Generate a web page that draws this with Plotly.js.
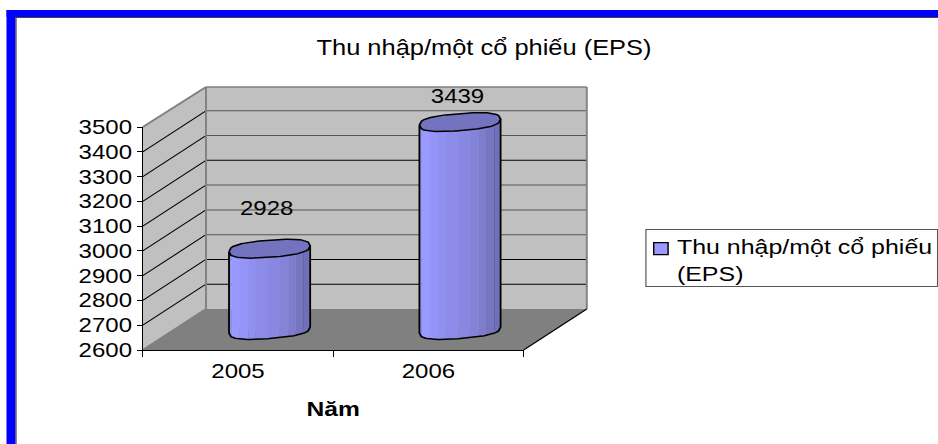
<!DOCTYPE html>
<html>
<head>
<meta charset="utf-8">
<script src="https://cdn.plot.ly/plotly-3.0.1.min.js"></script>
<style>html,body{margin:0;padding:0;background:#fff;overflow:hidden;}#c{transform-origin:0 0;}</style>
</head>
<body>
<div id="c"></div>
<script>
const years = ['2005', '2006'];
const eps = [2928, 3439];
const labelShift = [41, 26];
const seriesName = 'Thu nhập/một cổ phiếu<br>(EPS)';
const titleText = 'Thu nhập/một cổ phiếu (EPS)';
const axisTitle = 'Năm';
const gridValues = [2700, 2800, 2900, 3000, 3100, 3200, 3300, 3400];
const gridColors = ['#000', '#000', '#555', '#555', '#555', '#000', '#555', '#555'];
const stripEdges = [0, 0.03, 0.13, 0.24, 0.33, 0.48, 0.62, 0.73, 0.82, 0.92, 1];
const stripColors = ['#8f8ff0', '#9999ff', '#9494f8', '#9090f0', '#8c8ce8', '#8888e0', '#8383d8', '#7d7dcc', '#7676c0', '#7070b8'];

// The reference picture is stretched sideways, so the whole chart is too.
const S = 1.2;
const chart = document.getElementById('c');
chart.style.width = (938 / S) + 'px';
chart.style.height = '444px';
chart.style.transform = 'scaleX(' + S + ')';

// Pixel frame of the plot area (in final picture pixels)
const L = 143, R = 586, T = 87, B = 350, W = R - L, H = B - T;
const frontR = 523, frontTop = 127, depthX = 63, depthY = 41;
const pxPerUnit = (B - frontTop) / 900;
const X = p => (p - L) / W, Y = p => (B - p) / H;
const midX = depthX / 2, midY = 20;
const barW = 81 / 190;
const capH = 8.5 / pxPerUnit, tilt = 3 / pxPerUnit;

const P = (pts) => 'M' + pts.map(q => X(q[0]) + ',' + Y(q[1])).join('L') + 'Z';
const valFront = v => B - (v - 2600) * pxPerUnit;
const by = [T, B - depthY];

const shapes = [
  {type:'rect',xref:'paper',yref:'paper',x0:X(7),x1:X(938),y0:Y(10),y1:Y(17),fillcolor:'#0000ff',line:{width:0},layer:'below'},
  {type:'rect',xref:'paper',yref:'paper',x0:X(7),x1:X(16),y0:Y(10),y1:Y(444),fillcolor:'#0000ff',line:{width:0},layer:'below'},
  {type:'line',xref:'paper',yref:'paper',x0:X(16),x1:X(938),y0:Y(17.5),y1:Y(17.5),line:{color:'#444',width:1},layer:'below'},
  {type:'line',xref:'paper',yref:'paper',x0:X(16.5),x1:X(16.5),y0:Y(17),y1:Y(444),line:{color:'#444',width:1},layer:'below'},
  {type:'path',xref:'paper',yref:'paper',path:P([[L,frontTop],[L+depthX,T],[L+depthX,by[1]],[L,B]]),fillcolor:'#c0c0c0',line:{width:0},layer:'below'},
  {type:'path',xref:'paper',yref:'paper',path:P([[L+depthX,T],[R,T],[R,by[1]],[L+depthX,by[1]]]),fillcolor:'#c0c0c0',line:{width:0},layer:'below'},
  {type:'path',xref:'paper',yref:'paper',path:P([[L,B],[L+depthX,by[1]],[R,by[1]],[frontR,B]]),fillcolor:'#808080',line:{width:0},layer:'below'},
  {type:'rect',xref:'paper',yref:'paper',x0:X(645),x1:X(936),y0:Y(229.5),y1:Y(286.5),fillcolor:'#fff',line:{color:'#555',width:1},layer:'below'}
];
gridValues.forEach((v, i) => {
  const f = valFront(v), b = f - depthY;
  shapes.push({type:'line',xref:'paper',yref:'paper',x0:X(L),y0:Y(f),x1:X(L+depthX),y1:Y(b),line:{color:'#000',width:1},layer:'below'});
  shapes.push({type:'line',xref:'paper',yref:'paper',x0:X(L+depthX),y0:Y(b),x1:X(R),y1:Y(b),line:{color:gridColors[i],width:1},layer:'below'});
});
[[[L,frontTop],[L+depthX,T]],[[L+depthX,T],[R,T]],[[R,T],[R,by[1]]],[[L+depthX,T],[L+depthX,by[1]]],[[L,B],[L+depthX,by[1]]]].forEach(s => {
  shapes.push({type:'line',xref:'paper',yref:'paper',x0:X(s[0][0]),y0:Y(s[0][1]),x1:X(s[1][0]),y1:Y(s[1][1]),line:{color:'#808080',width:1.6},layer:'below'});
});
shapes.push({type:'line',xref:'paper',yref:'paper',x0:X(frontR),y0:Y(B),x1:X(R),y1:Y(by[1]),line:{color:'#000',width:1},layer:'below'});

const traces = [
  {type:'scatter',mode:'markers',x:years,y:eps,xaxis:'x',yaxis:'y',marker:{opacity:0},showlegend:false,hoverinfo:'skip'},
  {type:'bar',name:seriesName,x:[0,1],y:eps,width:barW*0.85,xaxis:'x2',yaxis:'y2',
   marker:{color:'#9999ff',line:{color:'#000',width:1.2}},showlegend:true,hoverinfo:'y'}
];
const cap = (u, sign) => {
  const s = Math.pow(Math.max(0, 1 - Math.pow(Math.abs(u), 2.6)), 1 / 2.6);
  return sign * s * capH + u * tilt;
};
const samples = (a, b, n) => Array.from({length:n + 1}, (_, i) => a + (b - a) * i / n);
eps.forEach((v, i) => {
  const hw = barW / 2;
  stripColors.forEach((c, k) => {
    const us = samples(stripEdges[k] * 2 - 1, stripEdges[k + 1] * 2 - 1, 4);
    const xs = us.map(u => i + u * hw), lows = us.map(u => 2600 + cap(u, -1));
    const tops = us.map(u => v + u * tilt);
    traces.push({type:'scatter',mode:'lines',x:xs.concat(xs.slice().reverse(), [xs[0]]),
      y:lows.concat(tops.slice().reverse(), [lows[0]]),fill:'toself',fillcolor:c,line:{width:0},
      xaxis:'x3',yaxis:'y3',showlegend:false,hoverinfo:'skip'});
  });
  const bot = samples(-1, 1, 40);
  traces.push({type:'scatter',mode:'lines',
    x:[i - hw].concat(bot.map(u => i + u * hw), [i + hw]),
    y:[v - tilt].concat(bot.map(u => 2600 + cap(u, -1)), [v + tilt]),
    line:{color:'#000',width:1.5},xaxis:'x3',yaxis:'y3',showlegend:false,hoverinfo:'skip'});
  const up = samples(-1, 1, 40), dn = samples(1, -1, 40);
  traces.push({type:'scatter',mode:'lines',
    x:up.map(u => i + u * hw).concat(dn.map(u => i + u * hw)),
    y:up.map(u => v + cap(u, 1)).concat(dn.map(u => v + cap(u, -1))),
    fill:'toself',fillcolor:'#7373bf',line:{color:'#000',width:1.5},
    xaxis:'x3',yaxis:'y3',showlegend:false,hoverinfo:'skip'});
});

const font = {family:'"Liberation Sans", Arial, sans-serif', color:'#000'};
const midDomainX = [X(L + midX), X(L + midX + 380)];
const layout = {
  width:938 / S, height:444,
  margin:{l:L / S, r:(938 - R) / S, t:T, b:444 - B, pad:0, autoexpand:false},
  paper_bgcolor:'#fff', plot_bgcolor:'rgba(0,0,0,0)',
  font:Object.assign({size:20}, font),
  title:{text:titleText,x:484 / 938,xanchor:'center',y:1 - 48 / 444,yanchor:'middle',font:Object.assign({size:21.2}, font)},
  showlegend:true,
  legend:{x:X(628),y:Y(226),xanchor:'left',yanchor:'top',borderwidth:0,bgcolor:'rgba(0,0,0,0)',
    font:Object.assign({size:20.8}, font),itemwidth:30,traceorder:'normal'},
  xaxis:{type:'category',categoryorder:'array',categoryarray:years,range:[-0.5,1.5],domain:[0,(frontR - L) / W],anchor:'y',
    tickson:'boundaries',ticks:'outside',ticklen:6,ticklabelstandoff:3,tickcolor:'#000',showline:true,linecolor:'#000',linewidth:1,
    showgrid:false,zeroline:false,tickfont:Object.assign({size:20}, font),
    title:{text:'<b>' + axisTitle + '</b>',standoff:20,font:Object.assign({size:20.5}, font)}},
  yaxis:{type:'linear',range:[2600,3500],dtick:100,tick0:2600,domain:[0,(B - frontTop) / H],anchor:'x',
    ticks:'outside',ticklen:4,tickcolor:'#000',showline:true,linecolor:'#000',linewidth:1,
    showgrid:false,zeroline:false,tickfont:Object.assign({size:20}, font)},
  xaxis2:{type:'linear',range:[-0.5,1.5],domain:midDomainX,anchor:'y2',visible:false,fixedrange:true},
  yaxis2:{type:'linear',range:[2600,2600 + (B - midY - T) / pxPerUnit],domain:[midY / H,1],anchor:'x2',visible:false,fixedrange:true},
  xaxis3:{type:'linear',range:[-0.5,1.5],domain:midDomainX,anchor:'y3',visible:false,fixedrange:true},
  yaxis3:{type:'linear',range:[2600 - midY / pxPerUnit,2600 + (B - midY - T) / pxPerUnit],domain:[0,1],anchor:'x3',visible:false,fixedrange:true},
  shapes:shapes,
  annotations:eps.map((v, i) => ({xref:'x3',yref:'y3',x:i,y:v,text:String(v),showarrow:false,xanchor:'center',yanchor:'middle',
    yshift:labelShift[i],xshift:-2 / S,font:Object.assign({size:20}, font)}))
};
Plotly.newPlot(chart, traces, layout, {displayModeBar:false, staticPlot:true}).then(() => {
  // Legend swatch sits closer to the text, level with the first line.
  chart.querySelectorAll('.legendsymbols').forEach(g => g.setAttribute('transform', 'translate(' + (8 / S) + ',-11)'));
});
</script>
</body>
</html>
